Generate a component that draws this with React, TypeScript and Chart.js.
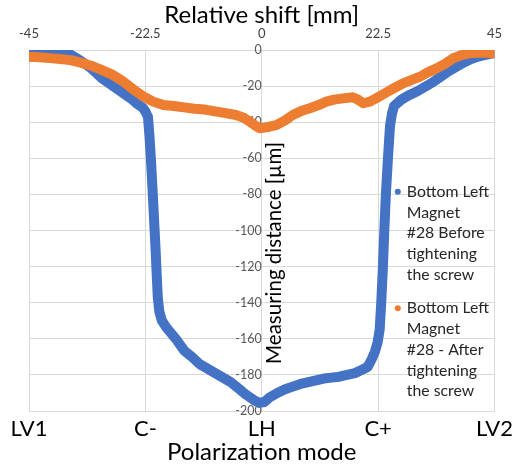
import { useEffect, useRef } from "react";
import { Chart, registerables } from "chart.js";

Chart.register(...registerables);

const shiftTicks = [-45, -22.5, 0, 22.5, 45];
const shiftLabels = ["-45", "-22.5", "0", "22.5", "45"];
const modeLabels = ["LV1", "C-", "LH", "C+", "LV2"];

const beforeX = [-45, -43, -41, -39, -37, -35, -33, -31, -29, -27, -25, -24, -23, -22.5, -22, -21.7, -21.4, -21.1, -20.8, -20.5, -20.3, -20.1, -19.8, -19.3, -18.5, -17.5, -16.5, -15, -13.5, -12, -10.5, -9, -7.5, -6, -4.5, -3, -1.5, -0.5, 0.5, 1.5, 3, 4.5, 6, 7.5, 9, 10.5, 12, 13.5, 15, 16.5, 18, 19.5, 20.5, 21.3, 21.9, 22.4, 22.8, 23.1, 23.4, 23.7, 24, 24.4, 24.8, 25.2, 25.6, 26.2, 27, 28.5, 30, 31.5, 33, 34.5, 36, 37.5, 39, 40.5, 42, 43.5, 45];
const beforeY = [-0.8, -0.5, -0.5, -1, -2.5, -6, -10, -15.5, -19.5, -23.5, -27.5, -30, -32, -34, -37, -48, -62, -78, -95, -112, -125, -137, -145, -150, -153.5, -157, -160.5, -166.5, -170, -174, -176.5, -179, -181.5, -184, -187.5, -191, -194, -195.5, -195, -192.5, -190, -188, -186.5, -185, -184, -183, -182, -181.5, -181, -180, -179, -177, -175.5, -171, -167, -162, -155, -140, -122, -100, -80, -60, -42, -35, -31, -29.5, -27.5, -25, -23, -20.5, -18, -15, -12, -9.5, -7, -5, -3.5, -2.5, -1.7];

const afterX = [-45, -43, -41, -39, -37, -35, -33, -31, -29, -27, -25, -23, -21, -19, -17, -15, -13, -11, -9, -7, -5, -3.5, -2.3, -1.2, -0.4, 0.5, 1.5, 2.8, 4.5, 6, 7.5, 9.3, 11, 12.5, 14, 15.7, 17.6, 18.6, 19.6, 20.9, 22.1, 23.5, 25, 27.3, 30.6, 32, 33.8, 35.5, 37, 38.5, 40.2, 42, 43.4, 45];
const afterY = [-3.7, -4, -4.5, -5, -5.6, -7, -8.7, -11, -13.5, -17, -21.5, -25.5, -28.6, -30.5, -31, -31.8, -32.5, -33, -34, -35, -36, -37.5, -39.7, -42, -43.4, -43, -42.5, -41.6, -39, -36, -34, -32.3, -30.5, -28.6, -27.5, -26.8, -26.2, -27.5, -29.5, -28.6, -26.8, -24.5, -22, -18.5, -14.8, -12.5, -10.2, -7.5, -4.6, -3, -1.8, -1.4, -1.5, -1.8];

const beforeLabel = ["Bottom Left", "Magnet", "#28 Before", "tightening", "the screw"];
const afterLabel = ["Bottom Left", "Magnet", "#28 - After", "tightening", "the screw"];
const titleTop = "Relative shift [mm]";
const titleBottom = "Polarization mode";
const titleY = "Measuring distance [µm]";

const BLUE = "#4472C4";
const ORANGE = "#ED7D31";
const GRID = "#d9d9d9";
const FONT = "Lato";

const overlayPlugin = {
  id: "overlay",
  afterDraw(chart: any) {
    const { ctx, scales, chartArea } = chart;
    const x0 = scales.x.getPixelForValue(0);
    ctx.save();
    ctx.fillStyle = "#000";
    ctx.font = `20.5px ${FONT}`;
    ctx.translate(x0 + 13, (chartArea.top + chartArea.bottom) / 2 + 22.5);
    ctx.rotate(-Math.PI / 2);
    ctx.textAlign = "center";
    ctx.textBaseline = "middle";
    ctx.fillText(titleY, 0, 0);
    ctx.restore();

    const entries = [
      { lines: beforeLabel, color: BLUE, top: 191.7 },
      { lines: afterLabel, color: ORANGE, top: 308.3 },
    ];
    ctx.save();
    ctx.font = `15.8px ${FONT}`;
    ctx.textAlign = "left";
    ctx.textBaseline = "middle";
    const dotX = chartArea.right - 96.7;
    const textX = chartArea.right - 87.7;
    entries.forEach((e) => {
      ctx.fillStyle = e.color;
      ctx.beginPath();
      ctx.arc(dotX, e.top, 3, 0, Math.PI * 2);
      ctx.fill();
      ctx.fillStyle = "#262626";
      e.lines.forEach((t, i) => ctx.fillText(t, textX, e.top + i * 20.7));
    });
    ctx.restore();
  },
};

const setShiftTicks = (scale: any) => {
  scale.ticks = shiftTicks.map((v) => ({ value: v }));
};

export default function App() {
  const ref = useRef<HTMLCanvasElement>(null);
  useEffect(() => {
    if (!ref.current) return;
    const chart = new Chart(ref.current, {
      type: "scatter",
      data: {
        datasets: [
          {
            label: beforeLabel.join(" "),
            data: beforeX.map((x, i) => ({ x, y: beforeY[i] })),
            borderColor: BLUE,
            backgroundColor: BLUE,
            borderWidth: 10,
            pointRadius: 0,
            showLine: true,
            borderJoinStyle: "round",
            borderCapStyle: "round",
            order: 1,
            xAxisID: "x",
            yAxisID: "y",
          },
          {
            label: afterLabel.join(" "),
            data: afterX.map((x, i) => ({ x, y: afterY[i] })),
            borderColor: ORANGE,
            backgroundColor: ORANGE,
            borderWidth: 10,
            pointRadius: 0,
            showLine: true,
            borderJoinStyle: "round",
            borderCapStyle: "round",
            order: 0,
            xAxisID: "x",
            yAxisID: "y",
          },
        ],
      },
      options: {
        animation: false,
        responsive: false,
        maintainAspectRatio: false,
        layout: { padding: { left: 29, right: 18, top: 0, bottom: 0 } },
        plugins: { legend: { display: false }, tooltip: { enabled: false } },
        scales: {
          x: {
            type: "linear",
            position: "top",
            min: -45,
            max: 45,
            afterBuildTicks: setShiftTicks,
            ticks: {
              callback: (v: any) => shiftLabels[shiftTicks.indexOf(Number(v))],
              font: { family: FONT, size: 13, lineHeight: 1 },
              color: "#404040",
              padding: 0,
              maxRotation: 0,
              autoSkip: false,
            },
            grid: { color: GRID, drawTicks: true, tickLength: 9.5, tickColor: "rgba(0,0,0,0)" },
            border: { color: GRID },
            title: {
              display: true,
              text: titleTop,
              color: "#000",
              font: { family: FONT, size: 24, lineHeight: 1 },
              padding: { top: 3.5, bottom: 0 },
            },
          },
          x2: {
            type: "linear",
            position: "bottom",
            min: -45,
            max: 45,
            afterBuildTicks: setShiftTicks,
            ticks: {
              callback: (v: any) => modeLabels[shiftTicks.indexOf(Number(v))],
              font: { family: FONT, size: 22, lineHeight: 1 },
              color: "#000",
              padding: 0,
              maxRotation: 0,
              autoSkip: false,
            },
            grid: { display: false, drawTicks: true, tickLength: 7 },
            border: { display: false },
            title: {
              display: true,
              text: titleBottom,
              color: "#000",
              font: { family: FONT, size: 24, lineHeight: 1 },
              padding: { top: 0, bottom: 0 },
            },
          },
          y: {
            type: "linear",
            position: { x: 0 } as any,
            min: -200,
            max: 0,
            ticks: {
              stepSize: 20,
              callback: (v: any) => String(v),
              font: { family: FONT, size: 12.5, lineHeight: 1 },
              color: "#595959",
              padding: 10,
            },
            grid: { color: GRID, drawTicks: false, tickLength: 0 },
            border: { color: GRID },
          },
        },
      },
      plugins: [overlayPlugin],
    });
    return () => chart.destroy();
  }, []);
  return (
    <div style={{ position: "absolute", left: 0, top: 0, width: 513, height: 464, background: "#fff" }}>
      <canvas ref={ref} width={513} height={464} style={{ display: "block" }} />
    </div>
  );
}
